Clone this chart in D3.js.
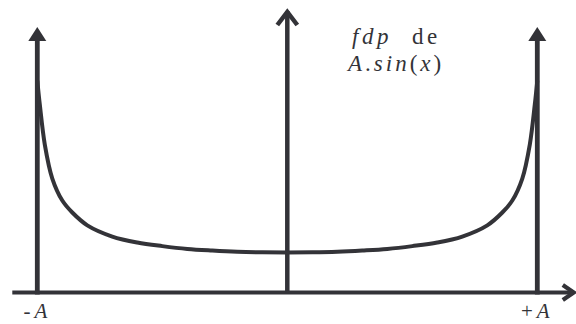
<!DOCTYPE html>
<html><head><meta charset="utf-8">
<script src="https://cdn.jsdelivr.net/npm/d3@7"></script>
<style>html,body{margin:0;padding:0;background:#fff;}svg{display:block;}
.serif{font-family:"Liberation Serif","Times New Roman","DejaVu Serif",serif;}</style>
</head><body>
<svg id="c" width="576" height="324"></svg>
<script>
// Positions along x in units of A, and density values relative to the minimum at x=0
const curveX = [-1.0, -0.99, -0.97, -0.94, -0.9, -0.86, -0.8, -0.7, -0.6, -0.5, -0.4, -0.3, -0.2, -0.1, 0,
                 0.1, 0.2, 0.3, 0.4, 0.5, 0.6, 0.7, 0.8, 0.86, 0.9, 0.94, 0.97, 0.99, 1.0];
const curveY = [5.3, 4.7, 3.7, 2.85, 2.3, 2.0, 1.68, 1.4, 1.25, 1.16, 1.09, 1.05, 1.02, 1.005, 1.0,
                1.005, 1.02, 1.05, 1.09, 1.16, 1.25, 1.4, 1.68, 2.0, 2.3, 2.85, 3.7, 4.7, 5.3];
const arrowX = [-1, 0, 1];          // vertical arrows at -A, 0, +A
const arrowTop = [6.64, 7.09, 6.64]; // arrow tip heights
const axisRange = [-1.1, 1.15];      // horizontal axis extent
const tickLabels = ["-A", "+A"];
const tickPos = [-1, 1];

const col = "#333338";
const svg = d3.select("#c");
const x = d3.scaleLinear().domain([-1, 1]).range([37.3, 537.3]);
const y = d3.scaleLinear().domain([0, 7.09]).range([292.5, 9]);

// horizontal axis
svg.append("line").attr("x1", x(axisRange[0])).attr("x2", x(axisRange[1]) - 1)
  .attr("y1", y(0)).attr("y2", y(0)).attr("stroke", col).attr("stroke-width", 4);
svg.append("path")
  .attr("d", `M${x(axisRange[1]) - 12},${y(0) - 7.5}L${x(axisRange[1]) - 1},${y(0)}L${x(axisRange[1]) - 12},${y(0) + 7.5}`)
  .attr("fill", "none").attr("stroke", col).attr("stroke-width", 4.2).attr("stroke-linejoin", "miter");

// vertical arrows
arrowX.forEach((a, i) => {
  const cx = x(a), tip = y(arrowTop[i]);
  if (a === 0) {
    svg.append("line").attr("x1", cx).attr("x2", cx).attr("y1", y(0)).attr("y2", tip + 2)
      .attr("stroke", col).attr("stroke-width", 4.5);
    svg.append("path").attr("d", `M${cx - 10},${tip + 16}L${cx},${tip + 3}L${cx + 10},${tip + 16}`)
      .attr("fill", "none").attr("stroke", col).attr("stroke-width", 4.5).attr("stroke-linejoin", "miter");
  } else {
    svg.append("line").attr("x1", cx).attr("x2", cx).attr("y1", y(0) + 2).attr("y2", tip + 12)
      .attr("stroke", col).attr("stroke-width", 4.8);
    svg.append("path").attr("d", `M${cx},${tip}L${cx + 9},${tip + 14}L${cx - 9},${tip + 14}Z`)
      .attr("fill", col);
  }
});

// density curve
const pts = curveX.map((v, i) => [v, curveY[i]]);
svg.append("path").datum(pts)
  .attr("d", d3.line().x(d => x(d[0])).y(d => y(d[1])).curve(d3.curveCatmullRom.alpha(0.5)))
  .attr("fill", "none").attr("stroke", col).attr("stroke-width", 4);

// tick labels
tickLabels.forEach((t, i) => {
  const tx = svg.append("text").attr("class", "serif").attr("x", x(tickPos[i])).attr("y", 318)
    .attr("text-anchor", "middle").attr("font-size", 21)
    .attr("fill", col).attr("letter-spacing", 4);
  tx.append("tspan").text(t[0]);
  tx.append("tspan").attr("font-style", "italic").text(t.slice(1));
});

// title
const t1 = svg.append("text").attr("class", "serif").attr("x", 352).attr("y", 44)
  .attr("font-size", 23).attr("fill", col).attr("letter-spacing", 3.5);
t1.append("tspan").attr("font-style", "italic").text("fdp");
t1.append("tspan").attr("dx", 20).text("de");
const t2 = svg.append("text").attr("class", "serif").attr("x", 348).attr("y", 71)
  .attr("font-size", 23).attr("fill", col).attr("letter-spacing", 3);
t2.append("tspan").attr("font-style", "italic").text("A");
t2.append("tspan").text(".");
t2.append("tspan").attr("font-style", "italic").text("sin");
t2.append("tspan").text("(");
t2.append("tspan").attr("font-style", "italic").text("x");
t2.append("tspan").text(")");
</script>
</body></html>
